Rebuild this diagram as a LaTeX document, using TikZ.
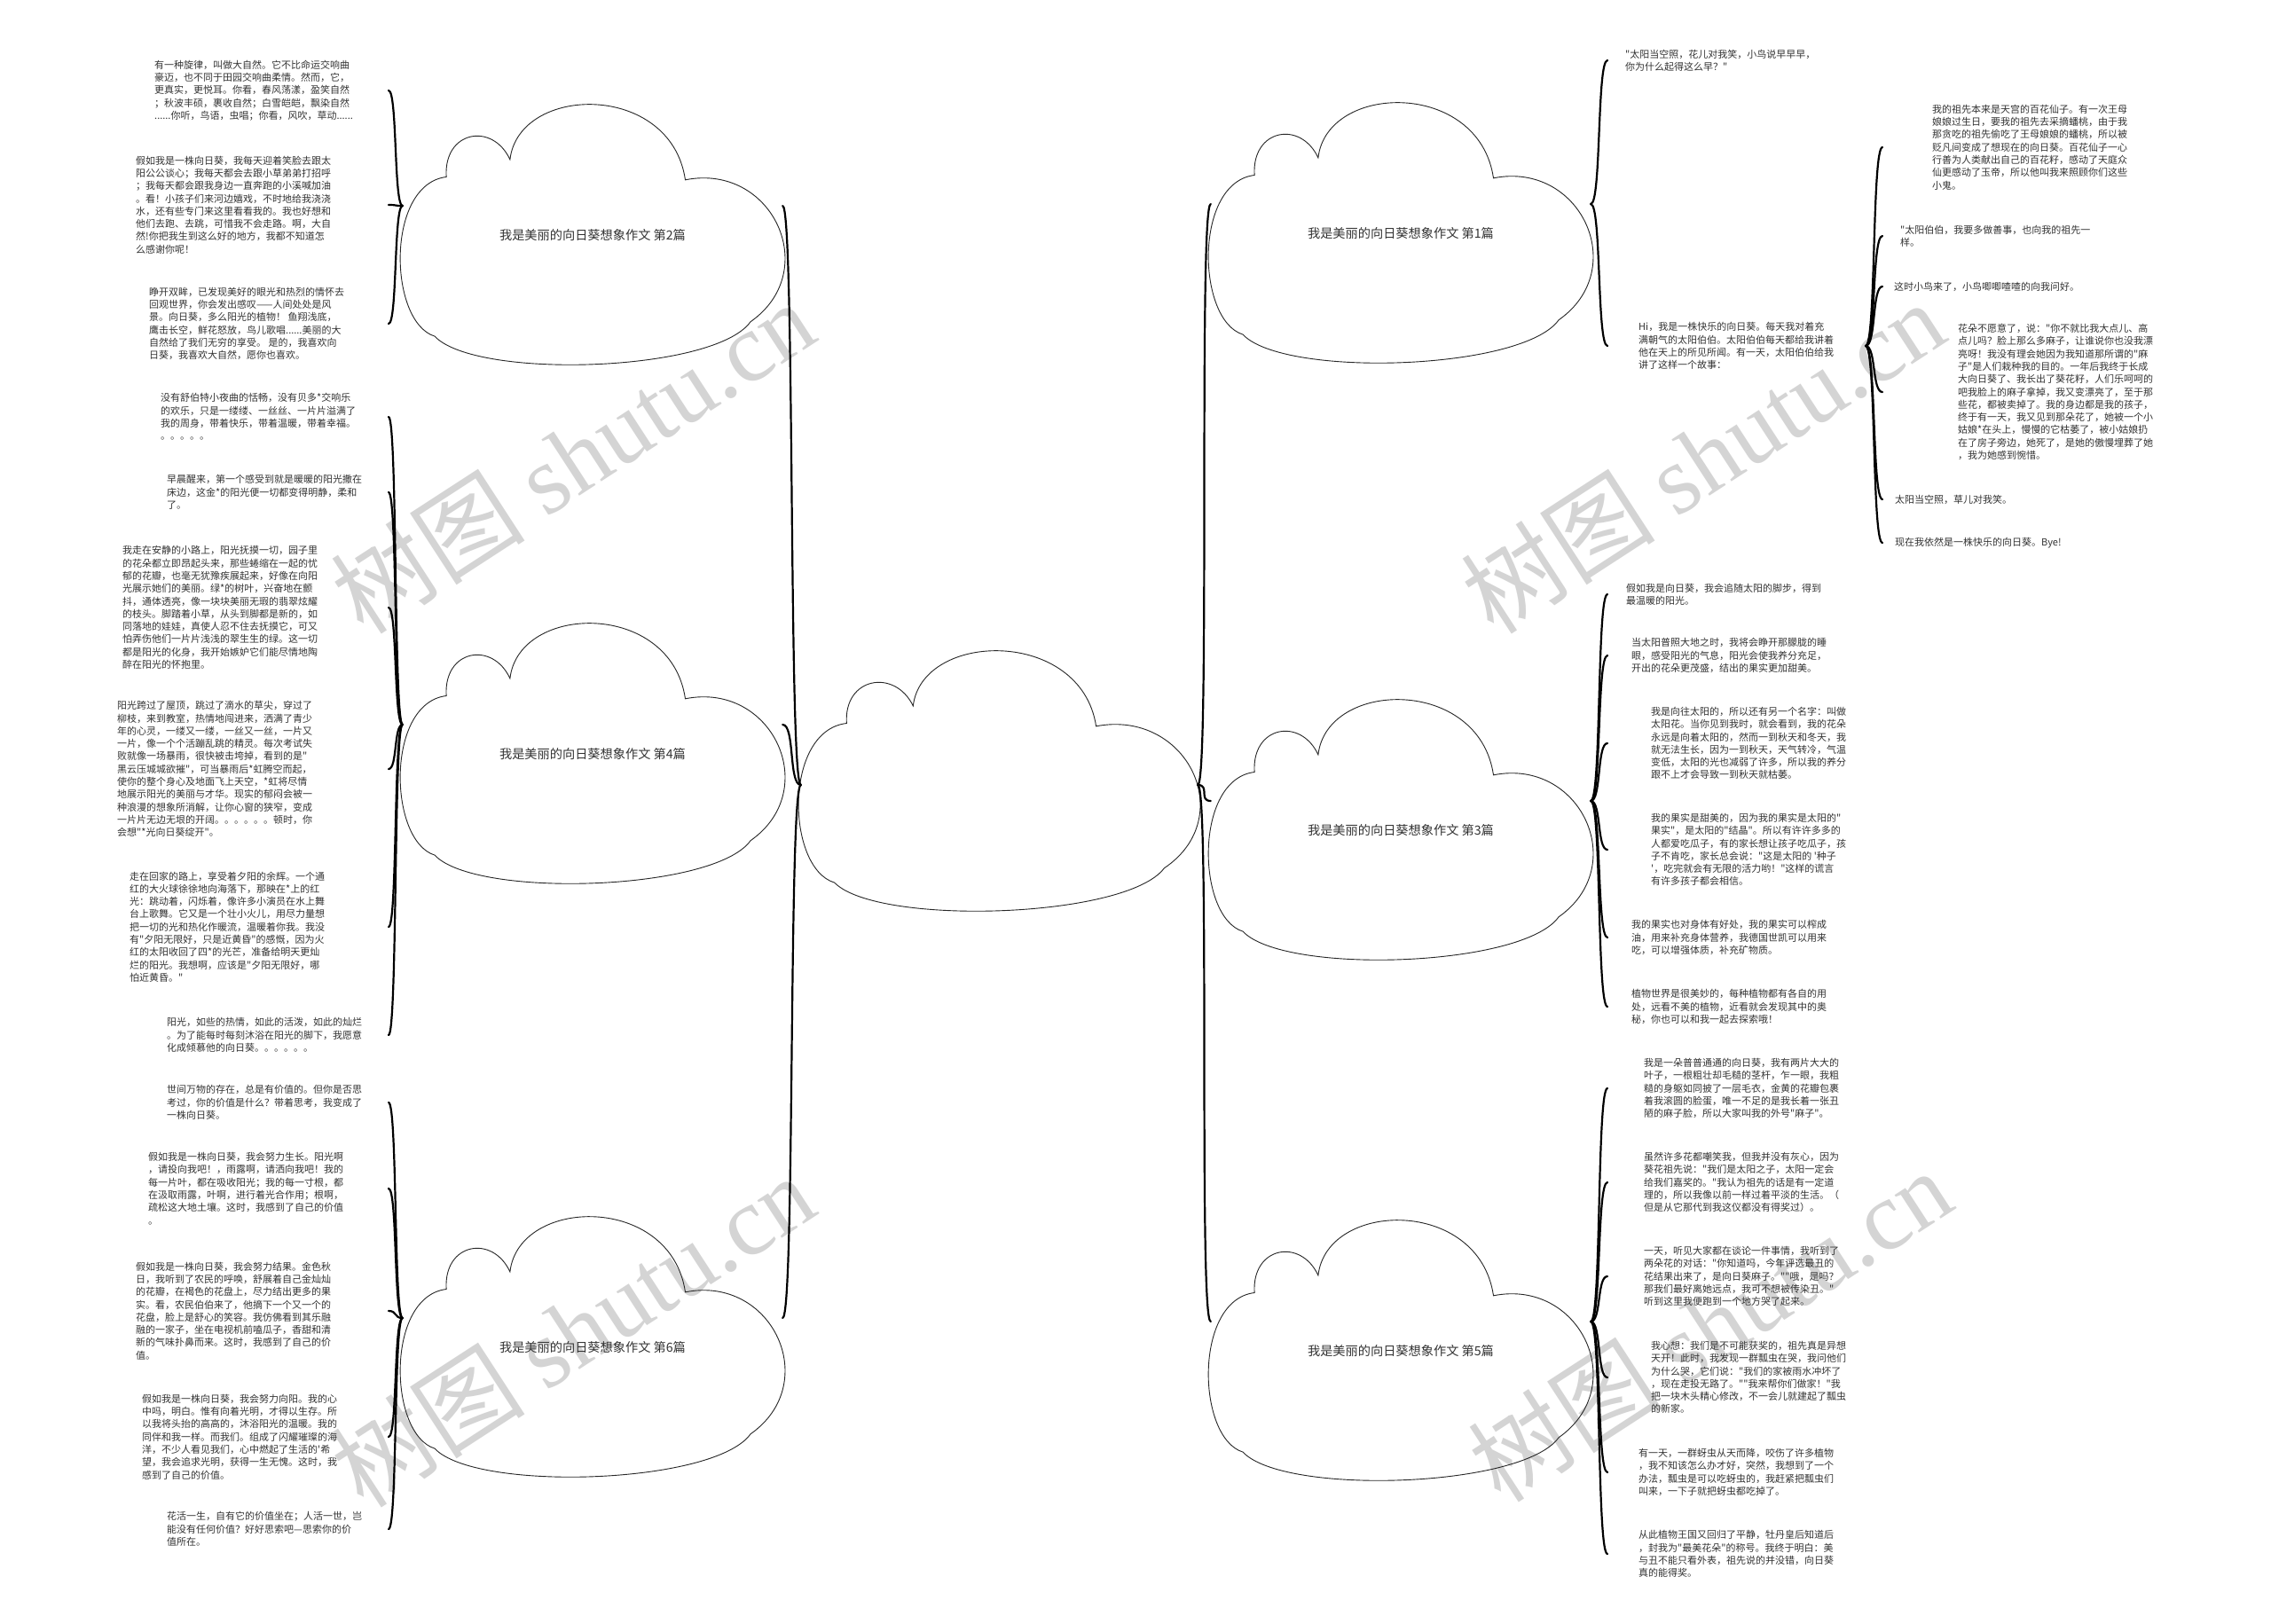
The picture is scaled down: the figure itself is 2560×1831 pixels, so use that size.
\documentclass[tikz,border=0pt]{standalone}
\usepackage{fontspec}
\setmainfont{Noto Sans CJK SC}
\newfontfamily\cjk{Noto Sans CJK SC}
\newfontfamily\wmserif{Liberation Serif}
\definecolor{txtgray}{HTML}{333333}
\definecolor{wmgray}{RGB}{212,212,212}
\tikzset{
  txt/.style={anchor=west, align=left, inner sep=0pt, text=txtgray, font=\cjk\fontsize{11}{14.3}\selectfont},
  cloudlabel/.style={minimum width=428pt, inner sep=0pt, text height=80pt, text depth=4pt, text=txtgray, font=\cjk\fontsize{14.2}{16}\selectfont},
  conn/.style={line width=2.2pt, line cap=round, draw=black},
  cloudline/.style={line width=0.9pt, draw=black!85},
  wmark/.style={text=wmgray, rotate=33, inner sep=0pt, font=\cjk\fontsize{110}{110}\selectfont},
  cloudpic/.pic={
    \draw[cloudline] (-178,115.1) .. controls (-230.3,98.8) and (-233.5,-56.3) .. (-164.9,-64.5)
      .. controls (-168.2,-116.8) and (-112.7,-126.6) .. (-93.1,-84.1)
      .. controls (-83.3,-169) and (88.2,-172.3) .. (104.5,-61.2)
      .. controls (202.5,-80.8) and (259.6,41.6) .. (178,98.8)
      .. controls (137.2,155.9) and (-132.3,164.1) .. (-178,115.1) -- cycle;
  }
}
\begin{document}
\begin{tikzpicture}[x=1pt, y=-1pt]
\useasboundingbox (0,0) rectangle (2560,1831);
\fill[white] (0,0) rectangle (2560,1831);

% watermarks
\node[wmark] (w1) at (645,515) {树图 {\wmserif shutu.cn}};
\node[wmark] (w2) at (1919,515) {树图 {\wmserif shutu.cn}};
\node[wmark] (w3) at (645,1500) {树图 {\wmserif shutu.cn}};
\node[wmark] (w4) at (1927,1494) {树图 {\wmserif shutu.cn}};

% coordinates for connector ends
\coordinate (lx) at (438,0);
\coordinate (rx) at (1812,0);
\coordinate (jx) at (2103,0);
\coordinate (sx) at (2122,0);

% clouds
\pic[xscale=1.044] at (1126.5,880) {cloudpic};
\node[cloudlabel, minimum width=447pt] (c0) at (1126.5,885) {};
\pic at (668,264) {cloudpic};
\node[cloudlabel] (c2) at (668,232) {我是美丽的向日葵想象作文 第2篇};
\pic at (668,849) {cloudpic};
\node[cloudlabel] (c4) at (668,817) {我是美丽的向日葵想象作文 第4篇};
\pic at (668,1518) {cloudpic};
\node[cloudlabel] (c6) at (668,1486) {我是美丽的向日葵想象作文 第6篇};
\pic at (1579,262) {cloudpic};
\node[cloudlabel] (c1) at (1579,230) {我是美丽的向日葵想象作文 第1篇};
\pic at (1579,935) {cloudpic};
\node[cloudlabel] (c3) at (1579,903) {我是美丽的向日葵想象作文 第3篇};
\pic at (1579,1522) {cloudpic};
\node[cloudlabel] (c5) at (1579,1490) {我是美丽的向日葵想象作文 第5篇};

% left texts
\node[txt] (b1) at (174,102) {有一种旋律，叫做大自然。它不比命运交响曲\\豪迈，也不同于田园交响曲柔情。然而，它，\\更真实，更悦耳。你看，春风荡漾，盈笑自然\\；秋波丰硕，裹收自然；白雪皑皑，飘染自然\\......你听，鸟语，虫唱；你看，风吹，草动......};
\node[txt] (b2) at (153,231) {假如我是一株向日葵，我每天迎着笑脸去跟太\\阳公公谈心；我每天都会去跟小草弟弟打招呼\\；我每天都会跟我身边一直奔跑的小溪喊加油\\。看！小孩子们来河边嬉戏，不时地给我浇浇\\水，还有些专门来这里看看我的。我也好想和\\他们去跑、去跳，可惜我不会走路。啊，大自\\然!你把我生到这么好的地方，我都不知道怎\\么感谢你呢！};
\node[txt] (b3) at (168,365) {睁开双眸，已发现美好的眼光和热烈的情怀去\\回观世界，你会发出感叹——人间处处是风\\景。向日葵，多么阳光的植物！ 鱼翔浅底，\\鹰击长空，鲜花怒放，鸟儿歌唱......美丽的大\\自然给了我们无穷的享受。 是的，我喜欢向\\日葵，我喜欢大自然，愿你也喜欢。};
\node[txt] (b4) at (181,470) {没有舒伯特小夜曲的恬畅，没有贝多*交响乐\\的欢乐，只是一缕缕、一丝丝、一片片溢满了\\我的周身，带着快乐，带着温暖，带着幸福。\\。。。。。};
\node[txt] (b5) at (188,555) {早晨醒来，第一个感受到就是暖暖的阳光撒在\\床边，这金*的阳光便一切都变得明静，柔和\\了。};
\node[txt] (b6) at (138,685) {我走在安静的小路上，阳光抚摸一切，园子里\\的花朵都立即昂起头来，那些蜷缩在一起的忧\\郁的花瓣，也毫无犹豫疾展起来，好像在向阳\\光展示她们的美丽。绿*的树叶，兴奋地在颤\\抖，通体透亮，像一块块美丽无瑕的翡翠炫耀\\的枝头。脚踏着小草，从头到脚都是新的，如\\同落地的娃娃，真使人忍不住去抚摸它，可又\\怕弄伤他们一片片浅浅的翠生生的绿。这一切\\都是阳光的化身，我开始嫉妒它们能尽情地陶\\醉在阳光的怀抱里。};
\node[txt] (b7) at (132,867) {阳光跨过了屋顶，跳过了滴水的草尖，穿过了\\柳枝，来到教室，热情地闯进来，洒满了青少\\年的心灵，一缕又一缕，一丝又一丝，一片又\\一片，像一个个活蹦乱跳的精灵。每次考试失\\败就像一场暴雨，很快被击垮掉，看到的是"\\黑云压城城欲摧"，可当暴雨后*虹腾空而起，\\使你的整个身心及地面飞上天空，*虹将尽情\\地展示阳光的美丽与才华。现实的郁闷会被一\\种浪漫的想象所消解，让你心窗的狭窄，变成\\一片片无边无垠的开阔。。。。。。顿时，你\\会想"*光向日葵绽开"。};
\node[txt] (b8) at (146,1045) {走在回家的路上，享受着夕阳的余辉。一个通\\红的大火球徐徐地向海落下，那映在*上的红\\光：跳动着，闪烁着，像许多小演员在水上舞\\台上歌舞。它又是一个壮小火儿，用尽力量想\\把一切的光和热化作暖流，温暖着你我。我没\\有"夕阳无限好，只是近黄昏"的感慨，因为火\\红的太阳收回了四*的光芒，准备给明天更灿\\烂的阳光。我想啊，应该是"夕阳无限好，哪\\怕近黄昏。"};
\node[txt] (b9) at (188,1167) {阳光，如些的热情，如此的活泼，如此的灿烂\\。为了能每时每刻沐浴在阳光的脚下，我愿意\\化成倾慕他的向日葵。。。。。。};
\node[txt] (b10) at (188,1243) {世间万物的存在，总是有价值的。但你是否思\\考过，你的价值是什么？带着思考，我变成了\\一株向日葵。};
\node[txt] (b11) at (167,1340) {假如我是一株向日葵，我会努力生长。阳光啊\\，请投向我吧！，雨露啊，请洒向我吧！我的\\每一片叶，都在吸收阳光；我的每一寸根，都\\在汲取雨露，叶啊，进行着光合作用；根啊，\\疏松这大地土壤。这时，我感到了自己的价值\\。};
\node[txt] (b12) at (153,1478) {假如我是一株向日葵，我会努力结果。金色秋\\日，我听到了农民的呼唤，舒展着自己金灿灿\\的花瓣，在褐色的花盘上，尽力结出更多的果\\实。看，农民伯伯来了，他摘下一个又一个的\\花盘，脸上是舒心的笑容。我仿佛看到其乐融\\融的一家子，坐在电视机前嗑瓜子，香甜和清\\新的气味扑鼻而来。这时，我感到了自己的价\\值。};
\node[txt] (b13) at (160,1620) {假如我是一株向日葵，我会努力向阳。我的心\\中吗，明白。惟有向着光明，才得以生存。所\\以我将头抬的高高的，沐浴阳光的温暖。我的\\同伴和我一样。而我们。组成了闪耀璀璨的海\\洋，不少人看见我们，心中燃起了生活的'希\\望，我会追求光明，获得一生无愧。这时，我\\感到了自己的价值。};
\node[txt] (b14) at (188,1724) {花活一生，自有它的价值坐在；人活一世，岂\\能没有任何价值？好好思索吧—思索你的价\\值所在。};

% right texts, first essay
\node[txt] (r1) at (1832,68) {"太阳当空照，花儿对我笑，小鸟说早早早，\\你为什么起得这么早？"};
\node[txt] (hi) at (1847,390) {Hi，我是一株快乐的向日葵。每天我对着充\\满朝气的太阳伯伯。太阳伯伯每天都给我讲着\\他在天上的所见所闻。有一天，太阳伯伯给我\\讲了这样一个故事：};
\node[txt] (s1) at (2178,166) {我的祖先本来是天宫的百花仙子。有一次王母\\娘娘过生日，要我的祖先去采摘蟠桃，由于我\\那贪吃的祖先偷吃了王母娘娘的蟠桃，所以被\\贬凡间变成了想现在的向日葵。百花仙子一心\\行善为人类献出自己的百花籽，感动了天庭众\\仙更感动了玉帝，所以他叫我来照顾你们这些\\小鬼。};
\node[txt] (s2) at (2142,266) {"太阳伯伯，我要多做善事，也向我的祖先一\\样。};
\node[txt] (s3) at (2135,323) {这时小鸟来了，小鸟唧唧喳喳的向我问好。};
\node[txt] (s4) at (2207,442) {花朵不愿意了，说："你不就比我大点儿、高\\点儿吗？脸上那么多麻子，让谁说你也没我漂\\亮呀！我没有理会她因为我知道那所谓的"麻\\子"是人们栽种我的目的。一年后我终于长成\\大向日葵了、我长出了葵花籽，人们乐呵呵的\\吧我脸上的麻子拿掉，我又变漂亮了，至于那\\些花，都被卖掉了。我的身边都是我的孩子，\\终于有一天，我又见到那朵花了，她被一个小\\姑娘*在头上，慢慢的它枯萎了，被小姑娘扔\\在了房子旁边，她死了，是她的傲慢埋葬了她\\，我为她感到惋惜。};
\node[txt] (s5) at (2136,563) {太阳当空照，草儿对我笑。};
\node[txt] (s6) at (2136,612) {现在我依然是一株快乐的向日葵。Bye!};

% third essay
\node[txt] (r3a) at (1833,670) {假如我是向日葵，我会追随太阳的脚步，得到\\最温暖的阳光。};
\node[txt] (r3b) at (1839,739) {当太阳普照大地之时，我将会睁开那朦胧的睡\\眼，感受阳光的气息，阳光会使我养分充足，\\开出的花朵更茂盛，结出的果实更加甜美。};
\node[txt] (r3c) at (1861,838) {我是向往太阳的，所以还有另一个名字：叫做\\太阳花。当你见到我时，就会看到，我的花朵\\永远是向着太阳的，然而一到秋天和冬天，我\\就无法生长，因为一到秋天，天气转冷，气温\\变低，太阳的光也减弱了许多，所以我的养分\\跟不上才会导致一到秋天就枯萎。};
\node[txt] (r3d) at (1861,958) {我的果实是甜美的，因为我的果实是太阳的"\\果实"，是太阳的"结晶"。所以有许许多多的\\人都爱吃瓜子，有的家长想让孩子吃瓜子，孩\\子不肯吃，家长总会说："这是太阳的 '种子\\'，吃完就会有无限的活力哟！"这样的谎言\\有许多孩子都会相信。};
\node[txt] (r3e) at (1839,1057) {我的果实也对身体有好处，我的果实可以榨成\\油，用来补充身体营养，我德国世凯可以用来\\吃，可以增强体质，补充矿物质。};
\node[txt] (r3f) at (1839,1135) {植物世界是很美妙的，每种植物都有各自的用\\处，远看不美的植物，近看就会发现其中的奥\\秘，你也可以和我一起去探索哦！};

% fifth essay
\node[txt] (r5a) at (1853,1227) {我是一朵普普通通的向日葵，我有两片大大的\\叶子，一根粗壮却毛糙的茎杆，乍一眼，我粗\\糙的身躯如同披了一层毛衣，金黄的花瓣包裹\\着我滚圆的脸蛋，唯一不足的是我长着一张丑\\陋的麻子脸，所以大家叫我的外号"麻子"。};
\node[txt] (r5b) at (1853,1333) {虽然许多花都嘲笑我，但我并没有灰心，因为\\葵花祖先说："我们是太阳之子，太阳一定会\\给我们嘉奖的。"我认为祖先的话是有一定道\\理的，所以我像以前一样过着平淡的生活。（\\但是从它那代到我这仪都没有得奖过）。};
\node[txt] (r5c) at (1853,1439) {一天，听见大家都在谈论一件事情，我听到了\\两朵花的对话："你知道吗，今年评选最丑的\\花结果出来了，是向日葵麻子。""哦，是吗？\\那我们最好离她远点，我可不想被传染丑。"\\听到这里我便跑到一个地方哭了起来。};
\node[txt] (r5d) at (1861,1553) {我心想：我们是不可能获奖的，祖先真是异想\\天开！此时，我发现一群瓢虫在哭，我问他们\\为什么哭，它们说："我们的家被雨水冲坏了\\，现在走投无路了。""我来帮你们做家！"我\\把一块木头精心修改，不一会儿就建起了瓢虫\\的新家。};
\node[txt] (r5e) at (1847,1660) {有一天，一群蚜虫从天而降，咬伤了许多植物\\，我不知该怎么办才好，突然，我想到了一个\\办法，瓢虫是可以吃蚜虫的，我赶紧把瓢虫们\\叫来，一下子就把蚜虫都吃掉了。};
\node[txt] (r5f) at (1847,1752) {从此植物王国又回归了平静，牡丹皇后知道后\\，封我为"最美花朵"的称号。我终于明白：美\\与丑不能只看外表，祖先说的并没错，向日葵\\真的能得奖。};

% main connectors
\foreach \n in {c2,c4,c6}
  \draw[conn] (c0.west) .. controls +(-14,0) and +(14,0) .. (\n.east);
\foreach \n in {c1,c3,c5}
  \draw[conn] (c0.east) .. controls +(14,0) and +(-14,0) .. (\n.west);

% left sub connectors
\foreach \n in {b1,b2,b3}
  \draw[conn] (c2.west) .. controls +(-10,0) and +(10,0) .. (\n.east -| lx);
\foreach \n in {b4,b5,b6,b7,b8,b9}
  \draw[conn] (c4.west) .. controls +(-10,0) and +(10,0) .. (\n.east -| lx);
\foreach \n in {b10,b11,b12,b13,b14}
  \draw[conn] (c6.west) .. controls +(-10,0) and +(10,0) .. (\n.east -| lx);

% right sub connectors
\foreach \n in {r1,hi}
  \draw[conn] (c1.east) .. controls +(12,0) and +(-12,0) .. (\n.west -| rx);
\foreach \n in {r3a,r3b,r3c,r3d,r3e,r3f}
  \draw[conn] (c3.east) .. controls +(12,0) and +(-12,0) .. (\n.west -| rx);
\foreach \n in {r5a,r5b,r5c,r5d,r5e,r5f}
  \draw[conn] (c5.east) .. controls +(12,0) and +(-12,0) .. (\n.west -| rx);
\foreach \n in {s1,s2,s3,s4,s5,s6}
  \draw[conn] (hi.east -| jx) .. controls +(12,0) and +(-12,0) .. (\n.west -| sx);
\end{tikzpicture}
\end{document}
